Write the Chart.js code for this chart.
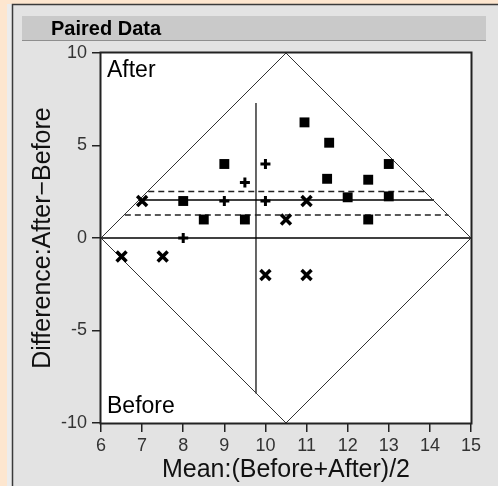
<!DOCTYPE html>
<html>
<head>
<meta charset="utf-8">
<script src="https://cdn.jsdelivr.net/npm/chart.js@4.4.1/dist/chart.umd.min.js"></script>
<style>
  html, body { margin: 0; padding: 0; background: #fde6cf; }
  #wrap { position: relative; width: 498px; height: 486px; }
</style>
</head>
<body>
<div id="wrap"><canvas id="paired"></canvas></div>
<script>
// tick labels
const xTicks = [6, 7, 8, 9, 10, 11, 12, 13, 14, 15];
const yTicks = [-10, -5, 0, 5, 10];

// points: mean (x) and difference (y) for each marker group
const squareMean = [9, 10.95, 11.55, 13, 11.5, 12.5, 12, 13, 12.5, 8, 8.5, 9.5];
const squareDiff = [4, 6.25, 5.15, 4, 3.2, 3.15, 2.2, 2.25, 1, 2, 1, 1];
const plusMean = [10, 9.5, 9, 10, 8];
const plusDiff = [4, 3, 2, 2, 0];
const crossMean = [7, 6.5, 7.5, 10, 11, 10.5, 11];
const crossDiff = [2, -1, -1, -2, -2, 1, 2];

// reference lines
const diamondMean = [6, 10.5, 15, 10.5, 6];
const diamondDiff = [0, 10, 0, -10, 0];
const zeroMean = [6, 15];
const zeroDiff = [0, 0];
const meanLineMean = [6.92, 14.1];
const meanLineDiff = [2.05, 2.05];
const upperMean = [7.15, 13.9];
const upperDiff = [2.52, 2.52];
const lowerMean = [6.58, 14.45];
const lowerDiff = [1.25, 1.25];
const vertMean = [9.77, 9.77];
const vertDiff = [-8.4, 7.3];

const pts = (xs, ys) => xs.map((x, i) => ({x: x, y: ys[i]}));

const lineSet = (xs, ys, extra) => Object.assign({
    data: pts(xs, ys),
    showLine: true,
    pointRadius: 0,
    borderColor: '#000',
    borderWidth: 1.5,
    tension: 0,
    order: 2
}, extra);

const FONT = '"Liberation Sans", Arial, sans-serif';

const panelPlugin = {
    id: 'panel',
    beforeDraw(chart) {
        const ctx = chart.ctx;
        ctx.save();
        ctx.fillStyle = '#fde6cf';
        ctx.fillRect(0, 0, 498, 486);
        ctx.fillStyle = '#ececec';
        ctx.fillRect(7, 4, 491, 482);
        ctx.fillStyle = '#e3e3e3';
        ctx.fillRect(13, 5, 485, 481);
        ctx.strokeStyle = '#3a3a3a';
        ctx.lineWidth = 1.5;
        ctx.beginPath();
        ctx.moveTo(12.5, 486);
        ctx.lineTo(12.5, 4.5);
        ctx.lineTo(498, 4.5);
        ctx.stroke();
        // header bar
        ctx.fillStyle = '#c9c9c9';
        ctx.fillRect(22, 16, 464, 25);
        ctx.strokeStyle = '#8f8f8f';
        ctx.lineWidth = 1;
        ctx.beginPath();
        ctx.moveTo(22, 40.5);
        ctx.lineTo(486, 40.5);
        ctx.stroke();
        ctx.fillStyle = '#000';
        ctx.font = 'bold 20px ' + FONT;
        ctx.textBaseline = 'alphabetic';
        ctx.fillText('Paired Data', 51, 35);
        // plot background
        const a = chart.chartArea;
        ctx.fillStyle = '#fff';
        ctx.fillRect(a.left, a.top, a.right - a.left, a.bottom - a.top);
        ctx.restore();
    },
    afterDraw(chart) {
        const ctx = chart.ctx;
        const a = chart.chartArea;
        ctx.save();
        ctx.strokeStyle = '#222';
        ctx.lineWidth = 2;
        ctx.strokeRect(a.left - 0.5, a.top - 0.5, a.right - a.left + 1, a.bottom - a.top + 1);
        ctx.fillStyle = '#000';
        ctx.font = '23px ' + FONT;
        ctx.fillText('After', a.left + 6, a.top + 24);
        ctx.fillText('Before', a.left + 6, a.bottom - 10);
        ctx.restore();
    }
};

const ctx = document.querySelector('#paired');
const pairedChart = new Chart(ctx, {
    type: 'scatter',
    data: {
        datasets: [
            {
                data: pts(squareMean, squareDiff),
                pointStyle: 'rect',
                pointRadius: 7,
                backgroundColor: '#000',
                borderWidth: 0,
                order: 0
            },
            {
                data: pts(plusMean, plusDiff),
                pointStyle: 'cross',
                pointRadius: 5,
                borderColor: '#000',
                borderWidth: 3,
                order: 0
            },
            {
                data: pts(crossMean, crossDiff),
                pointStyle: 'crossRot',
                pointRadius: 7,
                borderColor: '#000',
                borderWidth: 3.5,
                order: 0
            },
            lineSet(diamondMean, diamondDiff, {borderColor: '#333', borderWidth: 1}),
            lineSet(zeroMean, zeroDiff),
            lineSet(meanLineMean, meanLineDiff),
            lineSet(upperMean, upperDiff, {borderDash: [6, 4], borderColor: '#222'}),
            lineSet(lowerMean, lowerDiff, {borderDash: [6, 4], borderColor: '#222'}),
            lineSet(vertMean, vertDiff, {borderWidth: 1.2})
        ]
    },
    options: {
        responsive: true,
        maintainAspectRatio: false,
        devicePixelRatio: 1,
        animation: false,
        events: [],
        layout: { padding: { left: 0, top: 53, right: 27, bottom: 0 } },
        plugins: { legend: { display: false }, tooltip: { enabled: false } },
        scales: {
            x: {
                type: 'linear',
                min: 6,
                max: 15,
                afterBuildTicks: s => { s.ticks = xTicks.map(v => ({value: v})); },
                afterFit: s => { s.height = 63; },
                border: { display: false },
                grid: { drawOnChartArea: false, drawTicks: true, tickLength: 9, color: '#222', lineWidth: 1.5 },
                ticks: { color: '#333', font: { family: FONT, size: 18 }, padding: 3, maxRotation: 0, autoSkip: false },
                title: { display: true, text: 'Mean:(Before+After)/2', color: '#111', font: { family: FONT, size: 25 }, padding: { top: 0, bottom: 1 } }
            },
            y: {
                type: 'linear',
                min: -10,
                max: 10,
                afterBuildTicks: s => { s.ticks = yTicks.map(v => ({value: v})); },
                afterFit: s => { s.width = 101; },
                border: { display: false },
                grid: { drawOnChartArea: false, drawTicks: true, tickLength: 9, color: '#222', lineWidth: 1.5 },
                ticks: { color: '#333', font: { family: FONT, size: 18 }, padding: 5, autoSkip: false },
                title: { display: true, text: 'Difference:After\u2212Before', color: '#111', font: { family: FONT, size: 25 }, padding: { top: 28, bottom: 0 } }
            }
        }
    },
    plugins: [panelPlugin]
});
</script>
</body>
</html>
